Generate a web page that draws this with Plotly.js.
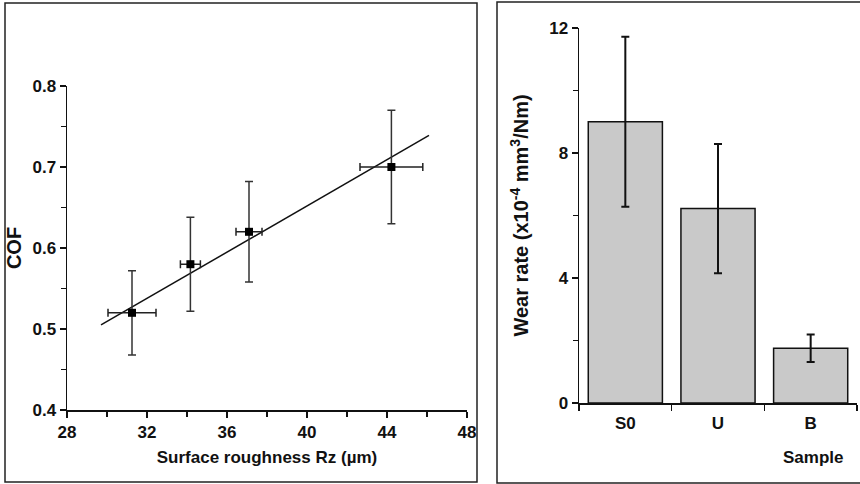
<!DOCTYPE html>
<html><head><meta charset="utf-8">
<script src="https://cdn.plot.ly/plotly-3.0.1.min.js"></script>
<style>html,body{margin:0;padding:0;background:#fff}#chart{width:860px;height:484px}</style>
</head><body><div id="chart"></div>
<script>
// Left panel: COF vs surface roughness
const roughness = [31.25, 34.17, 37.1, 44.22];
const roughnessErr = [1.2, 0.5, 0.65, 1.57];
const cof = [0.52, 0.58, 0.62, 0.70];
const cofErr = [0.052, 0.058, 0.062, 0.07];
const fitX = [29.7, 46.1];
const fitY = [0.505, 0.739];

// Right panel: wear rate by sample
const samples = ['S0', 'U', 'B'];
const wearRate = [9.0, 6.22, 1.75];
const wearErr = [2.72, 2.07, 0.44];

const F = 'Liberation Sans, Arial, Helvetica, sans-serif';
const tickFont = {family: F, size: 17, color: '#111', weight: 'bold'};
const titleFont = {family: F, size: 17, color: '#111', weight: 'bold'};
const vTitleFont = {family: F, size: 20, color: '#111', weight: 'bold'};
const W = 860, H = 484;
const px = v => v / W, py = v => (H - v) / H;

const traces = [
  {x: fitX, y: fitY, mode: 'lines', line: {color: '#111', width: 1.5}, xaxis: 'x', yaxis: 'y', hoverinfo: 'skip'},
  {x: roughness, y: cof, mode: 'markers', xaxis: 'x', yaxis: 'y',
   marker: {symbol: 'square', size: 8, color: '#000'},
   error_y: {type: 'data', array: cofErr, color: '#333', thickness: 1.5, width: 4},
   error_x: {type: 'data', array: roughnessErr, color: '#222', thickness: 1.5, width: 4}},
  {x: samples, y: wearRate, type: 'bar', xaxis: 'x2', yaxis: 'y2', width: 0.8,
   marker: {color: '#c9c9c9', line: {color: '#111', width: 1.5}},
   error_y: {type: 'data', array: wearErr, color: '#111', thickness: 2, width: 4}}
];

const layout = {
  width: W, height: H, showlegend: false,
  margin: {l: 0, r: 0, t: 0, b: 0},
  paper_bgcolor: '#fff', plot_bgcolor: 'rgba(0,0,0,0)',
  xaxis: {domain: [px(67), px(467)], range: [28, 48], tickvals: [28,32,36,40,44,48],
    showgrid: false, zeroline: false, showline: true, linecolor: '#111', linewidth: 1.5,
    ticks: 'outside', ticklen: 6, tickwidth: 1.5, tickcolor: '#111', tickfont: tickFont,
    minor: {tickvals: [30,34,38,42,46], ticks: 'outside', ticklen: 5, tickwidth: 1.2, tickcolor: '#111'},
    title: {text: 'Surface roughness Rz (µm)', font: titleFont, standoff: 10}, anchor: 'y'},
  yaxis: {domain: [py(410), py(86)], range: [0.4, 0.8], tickvals: [0.4,0.5,0.6,0.7,0.8],
    ticktext: ['0.4','0.5','0.6','0.7','0.8'],
    showgrid: false, zeroline: false, showline: true, linecolor: '#111', linewidth: 1.5,
    ticks: 'outside', ticklen: 6, tickwidth: 1.5, tickcolor: '#111', tickfont: tickFont,
    minor: {tickvals: [0.45,0.55,0.65,0.75], ticks: 'outside', ticklen: 5, tickwidth: 1.2, tickcolor: '#111'},
    title: {text: 'COF', font: vTitleFont, standoff: 5}, anchor: 'x'},
  xaxis2: {domain: [px(579), px(857)], range: [-0.5, 2.5], type: 'category',
    showgrid: false, zeroline: false, showline: true, linecolor: '#111', linewidth: 1.5,
    ticks: 'outside', ticklen: 6, tickwidth: 1.5, tickcolor: '#111', tickfont: tickFont,
    ticklabelstandoff: 4,
    tickson: 'boundaries', anchor: 'y2'},
  yaxis2: {domain: [py(403), py(28)], range: [0, 12], tickvals: [0,4,8,12],
    showgrid: false, zeroline: false, showline: true, linecolor: '#111', linewidth: 1.5,
    ticks: 'outside', ticklen: 6, tickwidth: 1.5, tickcolor: '#111', tickfont: tickFont,
    minor: {tickvals: [2,6,10], ticks: 'outside', ticklen: 5, tickwidth: 1.2, tickcolor: '#111'},
    title: {text: 'Wear rate (x10<sup>-4</sup> mm<sup>3</sup>/Nm)', font: vTitleFont, standoff: 15}, anchor: 'x2'},
  annotations: [
    {text: 'Sample', xref: 'paper', yref: 'paper', x: px(813), y: py(457),
     xanchor: 'center', yanchor: 'middle', showarrow: false, font: titleFont}
  ],
  shapes: [
    {type: 'rect', xref: 'paper', yref: 'paper', x0: px(5), x1: px(477), y0: py(482), y1: py(3),
     line: {color: '#222', width: 1.5}},
    {type: 'rect', xref: 'paper', yref: 'paper', x0: px(497), x1: px(866), y0: py(483), y1: py(2),
     line: {color: '#222', width: 1.5}}
  ]
};

Plotly.newPlot('chart', traces, layout, {staticPlot: true, displayModeBar: false});
</script></body></html>
